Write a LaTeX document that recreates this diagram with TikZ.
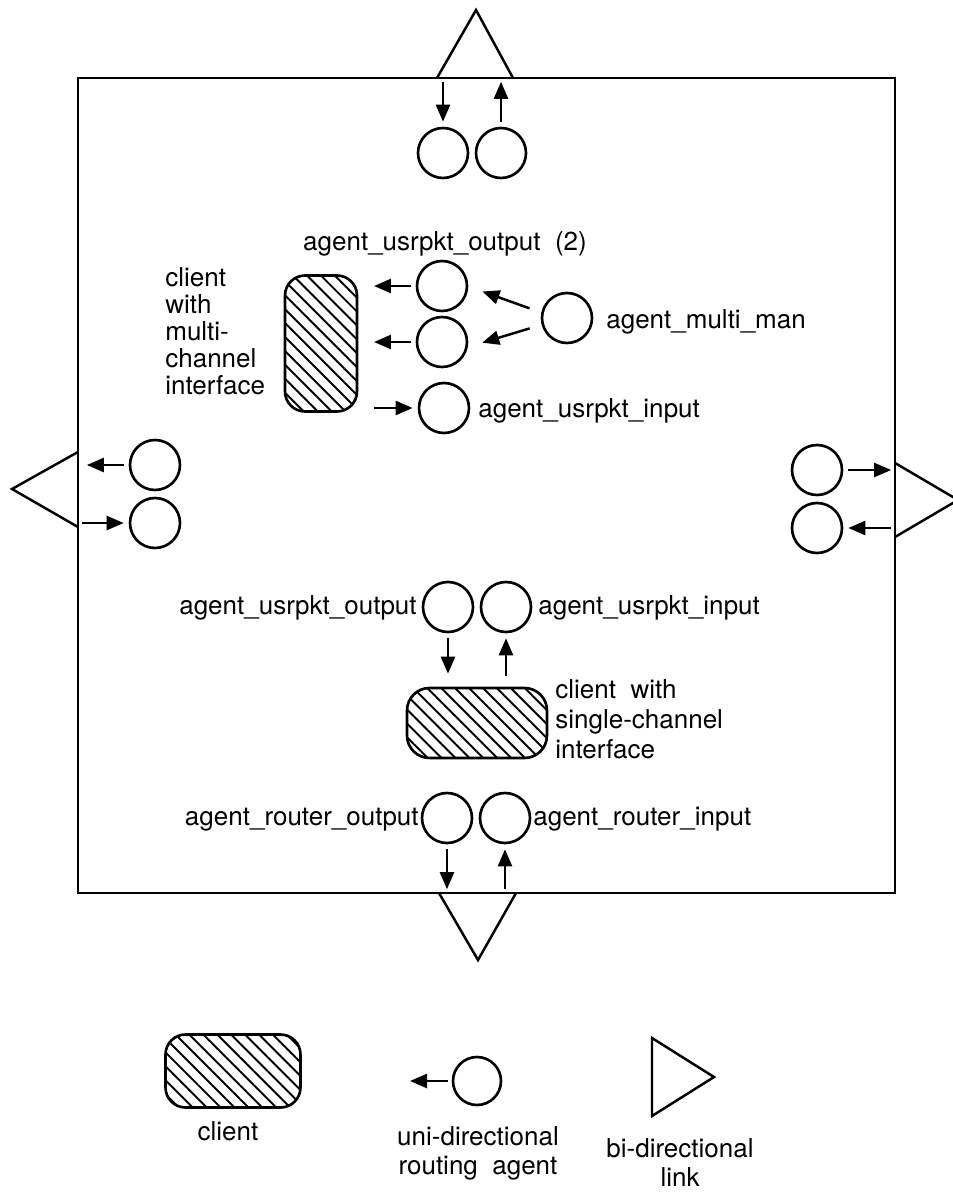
\documentclass[tikz,border=0pt]{standalone}
\usepackage{fontspec}
\setmainfont{TeX Gyre Heros}
\usetikzlibrary{arrows.meta,patterns.meta}
\tikzset{
    agent/.style={circle, draw, line width=1.5pt, minimum size=1cm, inner sep=0pt},
    client/.style={draw, line width=1.5pt, rounded corners=0.4cm, inner sep=0pt, pattern={Lines[angle=-45,distance=5.6pt,line width=1.1pt]}},
    link/.style={line width=1.4pt, line join=miter},
    flow/.style={-{Triangle[length=0.34cm,width=0.28cm]}, line width=1.4pt, shorten <=0.1cm, shorten >=0.1cm},
    twoline/.style={align=left, font=\fontsize{14.8}{15.4}\selectfont}
}

\begin{document}
\begin{tikzpicture}[x=0.02cm, y=-0.02cm, every node/.style={font=\fontsize{14.8}{16.5}\selectfont, inner sep=0pt}]
    \useasboundingbox (0,0) rectangle (953,1193);
    \node[draw, line width=1.4pt, minimum width=16.34cm, minimum height=16.3cm] (site) at (486.5,485.5) {};
    \draw[link] (437,78) -- (476,10) -- (513,78);
    \draw[link] (78,452) -- (12,489) -- (78,527);
    \draw[link] (895,463) -- (958,500) -- (895,537);
    \draw[link] (439,893) -- (478,960) -- (516,893);
    \foreach \n/\x/\y in {topA/443/153, topB/501/153, leftA/155/465, leftB/155/523, rightA/817/470, rightB/817/528,
                          mo1/442/286, mo2/442/342, mi/444/408, man/567/318, uo/448/607, ui/506/607, ro/447/818, ri/505/818}{
        \node[agent] (\n) at (\x,\y) {};
    }
    \node[client, minimum width=1.44cm, minimum height=2.72cm] (mclient) at (321,343.5) {};
    \node[client, minimum width=2.8cm, minimum height=1.4cm, rounded corners=0.45cm] (sclient) at (477,723) {};
    % arrows to and from the links
    \draw[flow] (topA |- site.north) -- (topA);
    \draw[flow] (topB) -- (topB |- site.north);
    \draw[flow, shorten >=0.2cm] (leftA) -- (leftA -| site.west);
    \draw[flow] (leftB -| site.west) -- (leftB);
    \draw[flow] (rightA) -- (rightA -| site.east);
    \draw[flow] (rightB -| site.east) -- (rightB);
    \draw[flow] (ro) -- (ro |- site.south);
    \draw[flow] (ri |- site.south) -- (ri);
    % arrows to and from the clients
    \draw[flow, shorten >=0.32cm] (mo1) -- (mo1 -| mclient.east);
    \draw[flow, shorten >=0.32cm] (mo2) -- (mo2 -| mclient.east);
    \draw[flow, shorten <=0.32cm] (mi -| mclient.east) -- (mi);
    \draw[flow, shorten <=0.25cm, shorten >=0.3cm] (man.168) -- (mo1.-1);
    \draw[flow, shorten <=0.25cm, shorten >=0.3cm] (man.195) -- (mo2.-11);
    \draw[flow, shorten >=0.26cm] (uo) -- (uo |- sclient.north);
    \draw[flow, shorten <=0.22cm] (ui |- sclient.north) -- (ui);
    \node[anchor=base] (lblOutTwo) at (445,250) {agent\_usrpkt\_output\ \ (2)};
    \node[twoline, anchor=north west] (lblMulti) at (165,267) {client\\with\\multi-\\channel\\interface};
    \node[anchor=base west] (lblMan) at (606,328) {agent\_multi\_man};
    \node[anchor=base west] (lblMi) at (478,417) {agent\_usrpkt\_input};
    \node[anchor=base east] (lblUo) at (417,614) {agent\_usrpkt\_output};
    \node[anchor=base west] (lblUi) at (538,614) {agent\_usrpkt\_input};
    \node[twoline, anchor=north west, font=\fontsize{14.8}{17}\selectfont] (lblSingle) at (555,679) {client\ \ with\\single-channel\\interface};
    \node[anchor=base east] (lblRo) at (419,825) {agent\_router\_output};
    \node[anchor=base west] (lblRi) at (533,825) {agent\_router\_input};
    % legend
    \node[client, minimum width=2.7cm, minimum height=1.46cm] (legClient) at (233,1071) {};
    \node[agent, minimum size=0.96cm] (legAgent) at (477,1081) {};
    \coordinate (legEnd) at (410,1081);
    \draw[flow, shorten <=0.08cm, shorten >=0pt] (legAgent) -- (legEnd);
    \draw[link] (652,1038) -- (714,1077) -- (652,1116) -- cycle;
    \node[anchor=base] (legClientTxt) at (228,1140) {client};
    \node[anchor=north, align=center] (legAgentTxt) at (478,1126) {uni-directional\\routing\ \ agent};
    \node[anchor=north, align=center] (legLinkTxt) at (680,1138) {bi-directional\\link};
\end{tikzpicture}
\end{document}
